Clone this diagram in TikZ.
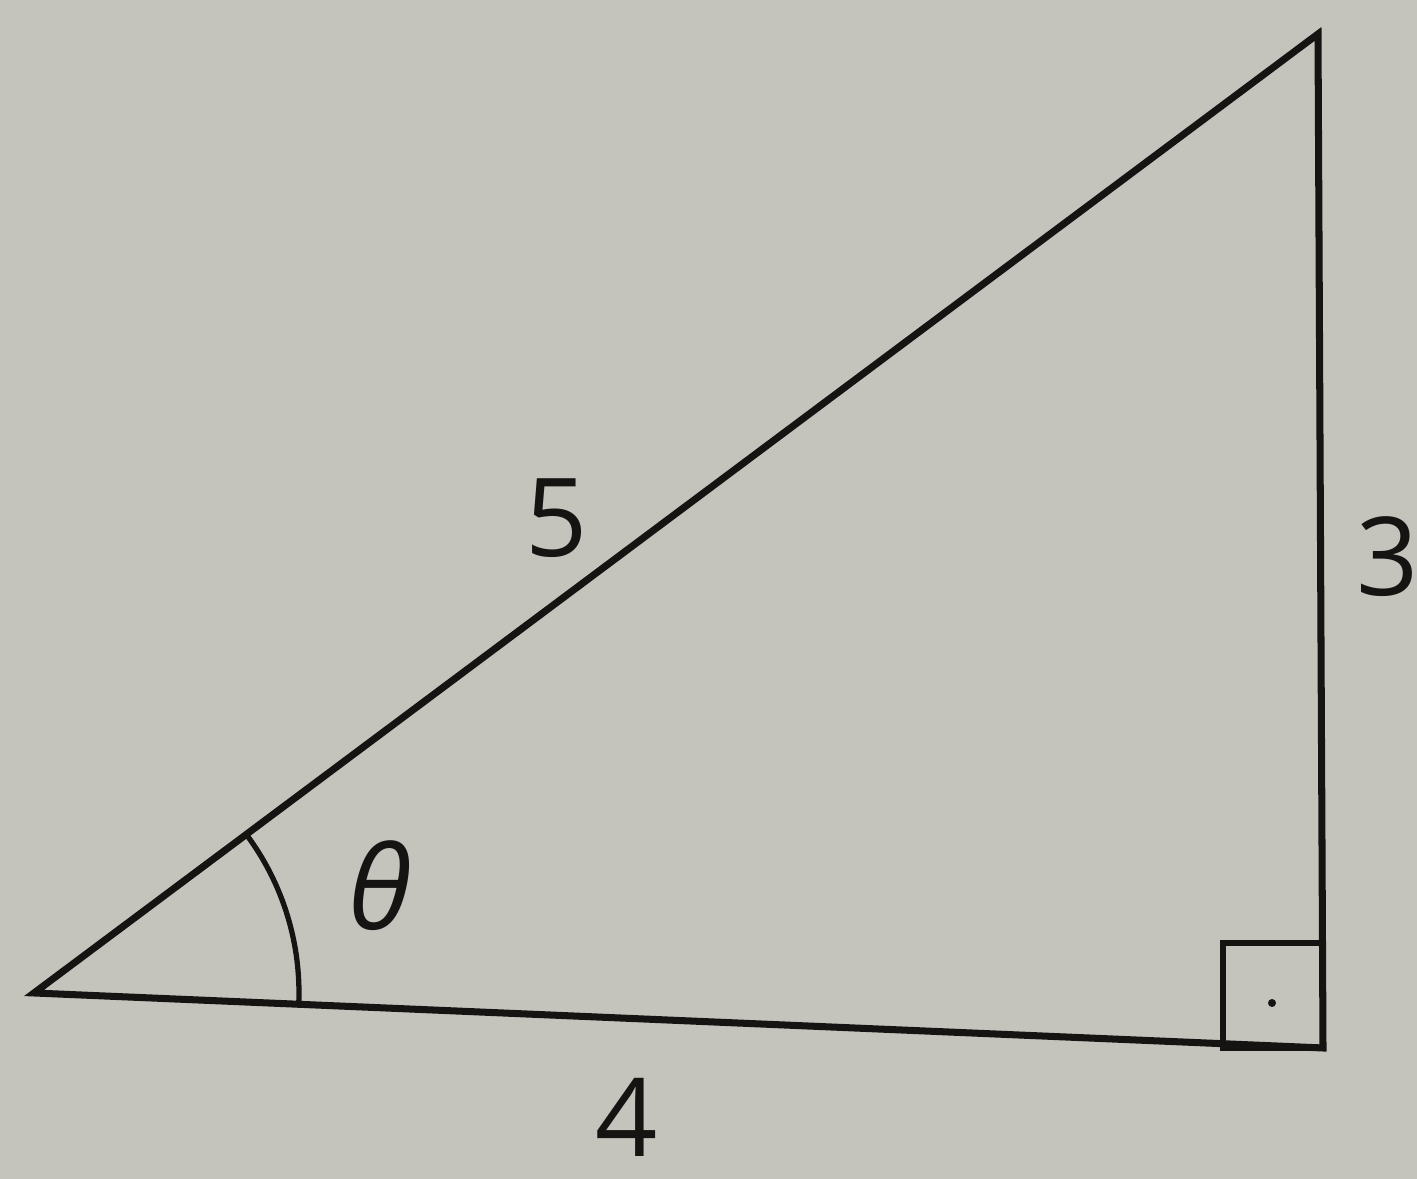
\documentclass[tikz,border=0pt]{standalone}
\usepackage{fontspec}
\setmainfont{Open Sans}
\usetikzlibrary{angles,quotes,calc}
\definecolor{papel}{RGB}{196,195,188}
\definecolor{tinta}{RGB}{22,20,18}
\tikzset{lado/.style={tinta,line width=2pt,line join=miter},
  rotulo/.style={tinta,font=\fontsize{31}{36}\selectfont}}
\begin{document}
\begin{tikzpicture}[scale=1]
\fill[papel] (0,0) rectangle (14.17,11.79);
\useasboundingbox (0,0) rectangle (14.17,11.79);
\coordinate (A) at (0.34,1.86); \coordinate (B) at (13.23,1.31); \coordinate (C) at (13.18,11.45);
\draw[lado] (A)--(B)--(C)--cycle;
\pic[draw=tinta,line width=1.5pt,angle radius=2.65cm] {angle = B--A--C};
\draw[tinta,line width=1.6pt] (12.23,1.31) rectangle (13.23,2.36);
\fill[tinta] (12.72,1.76) circle (0.04);
\node[rotulo] (hip) at (5.57,6.61) {5};
\node[rotulo] (cat) at (13.88,6.22) {3};
\node[rotulo] (base) at (6.27,0.62) {4};
\node[rotulo,font=\fontsize{33}{38}\selectfont\itshape] (ang) at (3.80,2.93) {θ};
\end{tikzpicture}
\end{document}
